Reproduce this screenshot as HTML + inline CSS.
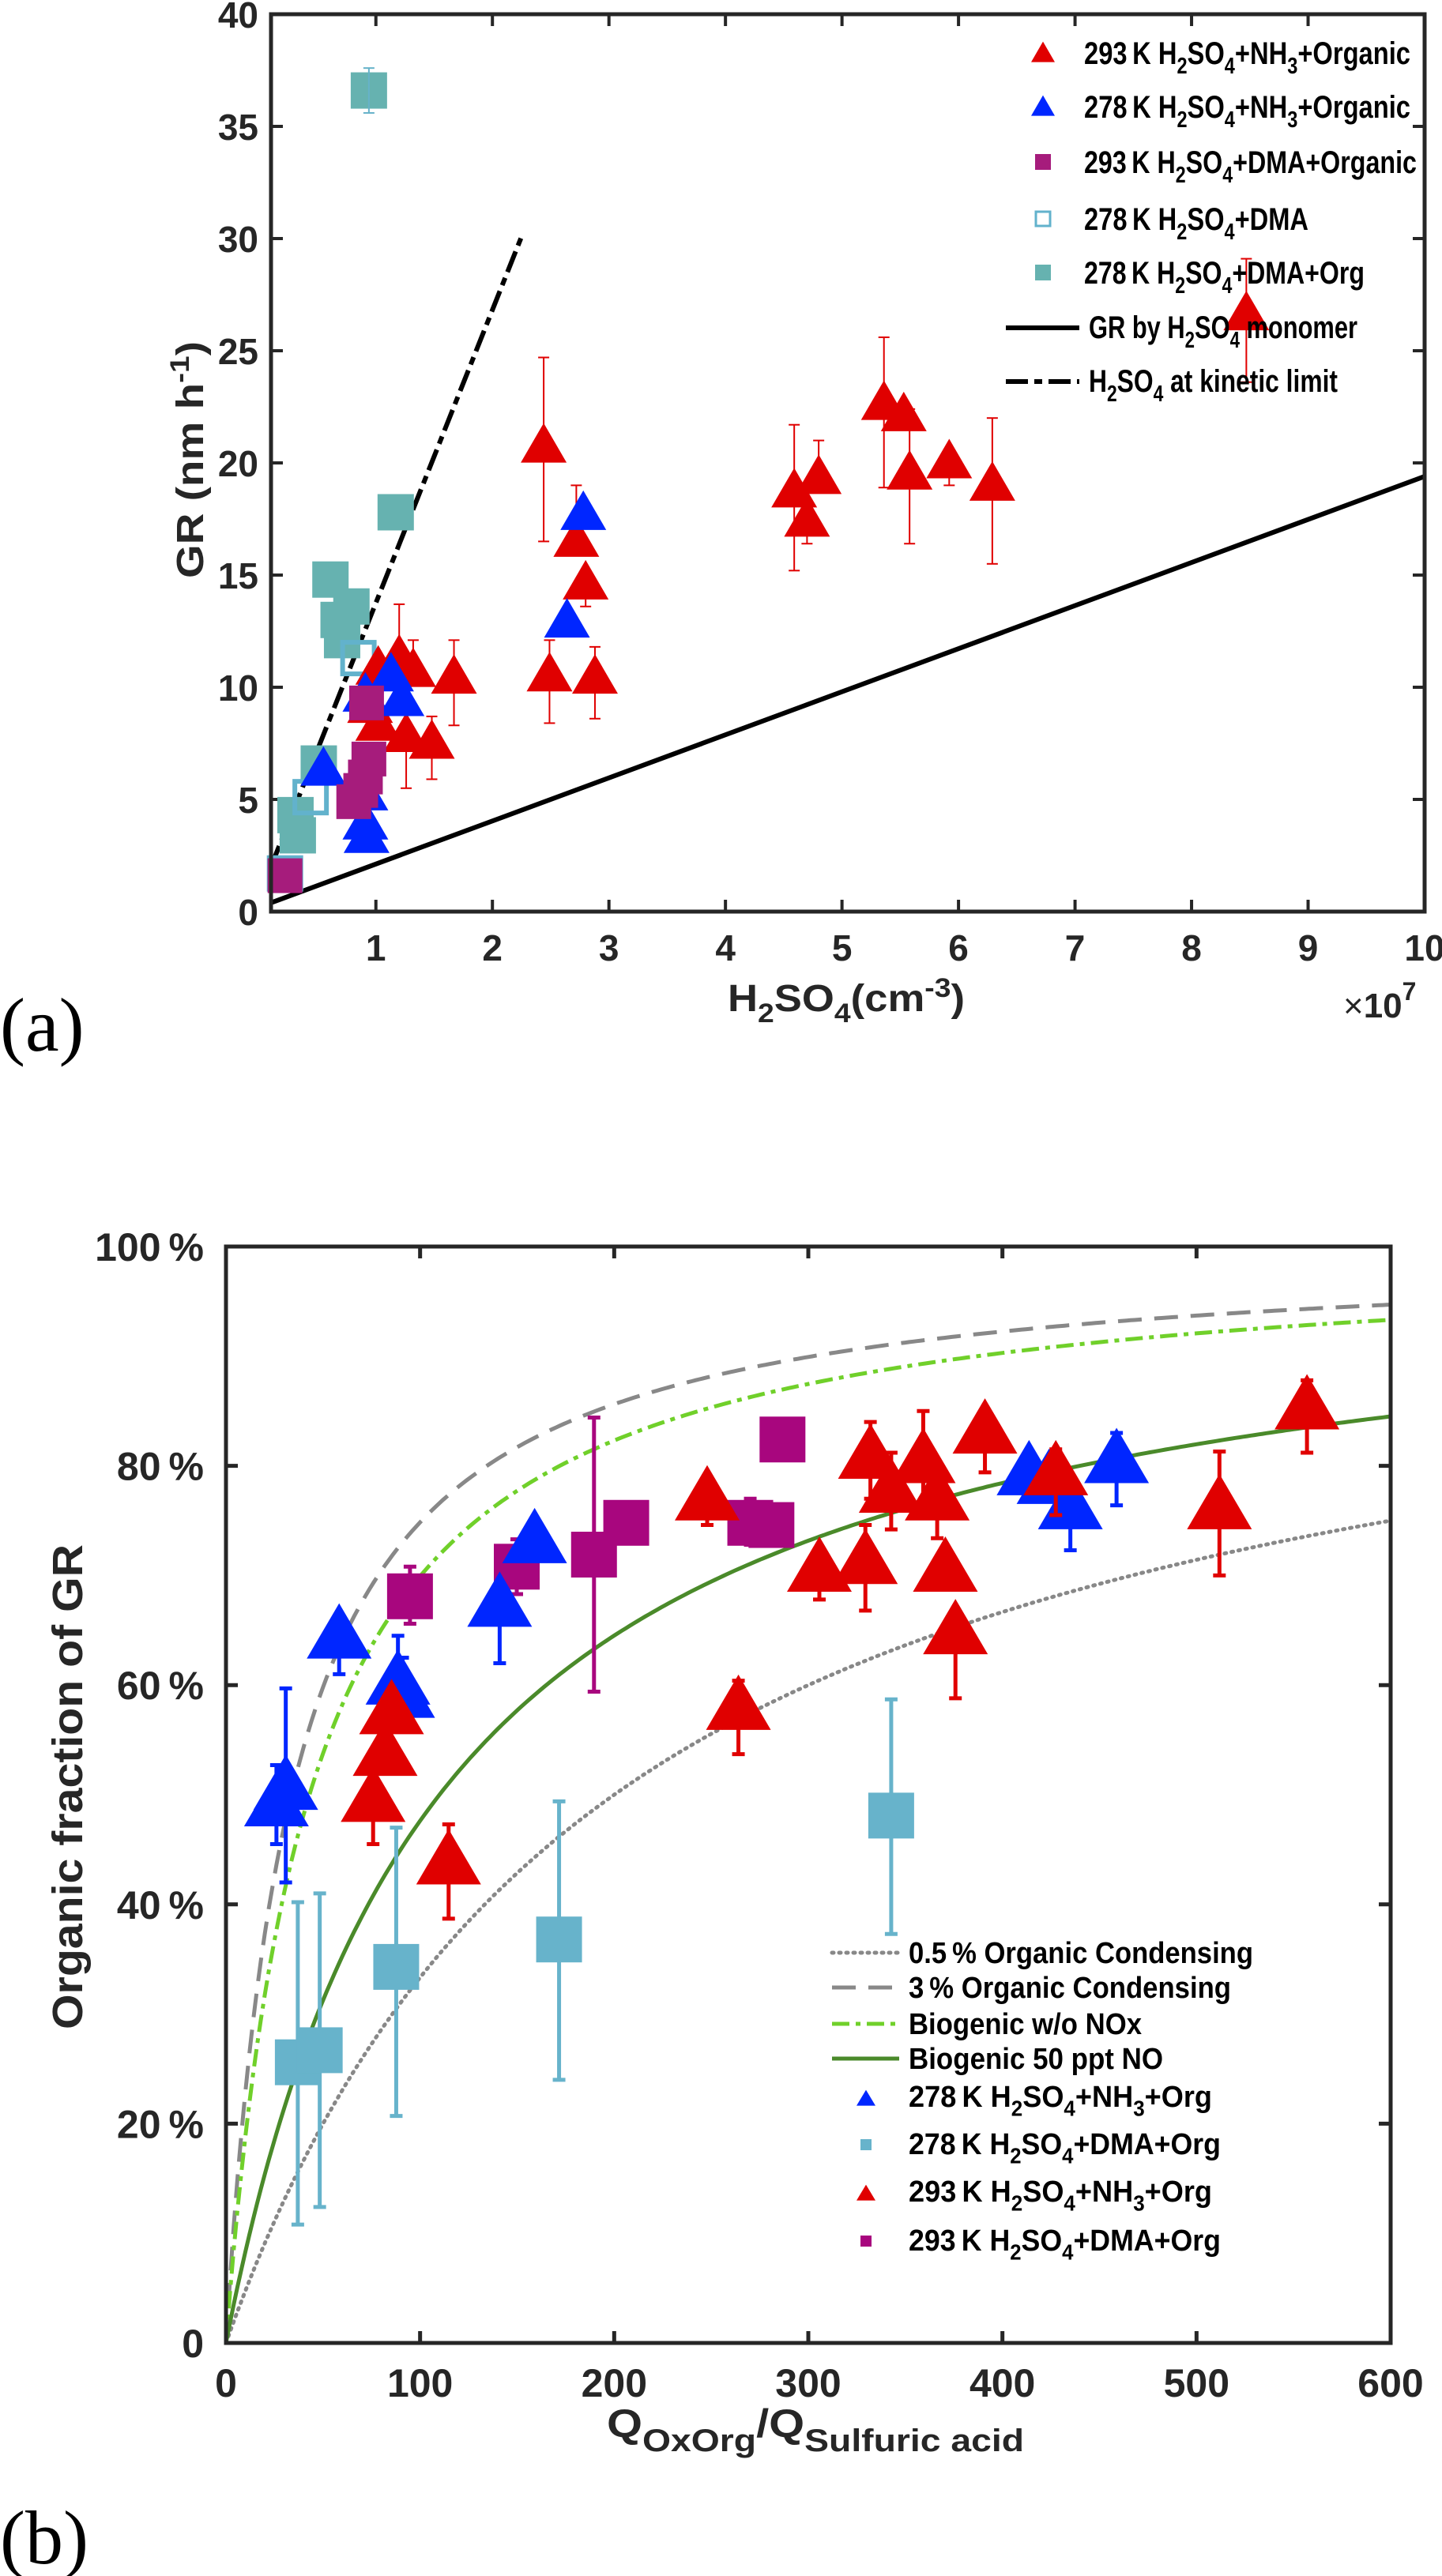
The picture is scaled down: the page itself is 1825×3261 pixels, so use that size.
<!DOCTYPE html>
<html><head><meta charset="utf-8"><title>GR vs H2SO4 and organic fraction of GR</title>
<style>html,body{margin:0;padding:0;background:#fff}svg{display:block}text{font-family:"Liberation Sans",sans-serif;font-weight:bold;fill:#262626}</style>
</head><body>
<svg id="fig" xmlns="http://www.w3.org/2000/svg" width="1825" height="3261" viewBox="0 0 1825 3261">
<g id="pa"></g>
<g id="pb"></g>
<text x="0" y="1330" style="font-family:'Liberation Serif',serif;font-weight:normal;font-size:96px;fill:#000">(a)</text>
<text x="0" y="3245" style="font-family:'Liberation Serif',serif;font-weight:normal;font-size:96px;fill:#000">(b)</text>
</svg>
<script>
// ---------- Panel A data ----------
const aXTicks = [1,2,3,4,5,6,7,8,9,10];
const aYTicks = [0,5,10,15,20,25,30,35,40];
const aRedX  = [2.44,2.72,2.80,2.49,2.88,4.59,4.70,4.80,5.36,5.53,5.58,5.92,6.29,8.47,1.02,1.20,1.32,1.67,1.02,1.26,1.48,0.95];
const aRedY  = [20.6,16.4,14.5,10.4,10.3,18.6,17.3,19.2,22.5,22.0,19.4,19.9,18.9,26.5,10.7,11.2,10.6,10.3,8.2,7.7,7.4,9.0];
const aRedLo = [16.5,16.4,13.6,8.4,8.6,15.2,16.4,19.2,18.9,22.0,16.4,19.0,15.5,23.6,10.7,11.2,10.6,8.3,8.2,5.5,5.9,9.0];
const aRedHi = [24.7,19.0,15.0,12.1,11.8,21.7,17.3,21.0,25.6,22.0,22.4,19.9,22.0,29.1,10.7,13.7,12.1,12.1,8.2,7.7,8.7,9.0];
const aBlueX = [2.78,2.64,0.91,1.22,0.55,0.91,0.91,0.92,1.13];
const aBlueY = [17.6,12.8,9.5,9.3,6.2,5.1,3.8,3.2,10.4];
const aMagX  = [0.92,0.94,0.91,0.87,0.81,0.22];
const aMagY  = [9.3,6.8,6.0,5.4,4.9,1.6];
const aOpenX = [0.85,0.44,0.22];
const aOpenY = [11.3,5.1,1.7];
const aTealX = [0.94,1.17,0.61,0.79,0.68,0.71,0.51,0.31,0.33];
const aTealY = [36.6,17.8,14.8,13.6,13.0,12.1,6.6,4.3,3.4];
const aTealLo= [35.6,17.8,14.8,13.6,13.0,12.1,6.6,4.3,3.4];
const aTealHi= [37.6,17.8,14.8,13.6,13.0,12.1,6.6,4.3,3.4];
const aMonoSlope = 1.92, aMonoIcpt = 0.2;
const aKinSlope = 13.06, aKinIcpt = -0.6, aKinXmax = 2.26;

// ---------- Panel B data ----------
const bXTicks = [0,100,200,300,400,500,600];
const bYTicks = [0,20,40,60,80,100];
const bYTickLabels = ['0','20\u2009%','40\u2009%','60\u2009%','80\u2009%','100\u2009%'];
const bBlueX = [26,30.8,58.3,88.6,91,141,159,413.7,435,458.8,424];
const bBlueY = [48.8,50.3,64.1,59.9,58.7,67,72.8,79,75.9,80.1,78.2];
const bBlueLo= [45.5,42,61,59.9,58.7,62,72.8,79,72.3,76.4,78.2];
const bBlueHi= [52.7,59.7,64.1,64.5,62.5,67,72.8,79,75.9,83,78.2];
const bCyanX = [37,48.3,87.7,171.6,342.7];
const bCyanY = [25.6,26.7,34.3,36.8,48.1];
const bCyanLo= [10.8,12.4,20.7,24,37.3];
const bCyanHi= [40.2,41,47,49.4,58.7];
const bRedX  = [75.8,82,85.3,114.7,247.9,264,305.7,329.4,332,342.7,359.2,366.4,370.6,375.8,391,427.5,511.8,556.9];
const bRedY  = [49.2,53.4,57.2,43.5,76.7,57.6,70.2,70.9,80.5,77.4,80.1,76.7,70.2,64.5,82.8,79,75.9,85];
const bRedLo = [45.5,53.4,57.2,38.7,74.6,53.7,67.8,66.8,77,74.2,76,73.4,70.2,58.8,79.4,75.5,70,81.2];
const bRedHi = [49.2,53.4,57.2,47.3,76.7,60.4,70.2,74.6,84,81.2,85,76.7,70.2,64.5,82.8,81.5,81.3,87.8];
const bMagX  = [94.8,149.8,189.6,206.2,270.1,281,286.7];
const bMagY  = [68.1,70.8,71.9,74.8,74.8,74.6,82.4];
const bMagLo = [65.6,68.3,59.4,74.8,72.8,74.6,82.4];
const bMagHi = [70.8,73.3,84.4,74.8,77,74.6,82.4];
const bCurveK = [200,33.6,43,110]; // half-saturation constants of the four model curves

const NS='http://www.w3.org/2000/svg';
function mk(parent,tag,attrs){const e=document.createElementNS(NS,tag);for(const k in attrs)e.setAttribute(k,attrs[k]);parent.appendChild(e);return e;}

function tri(g,cx,cy,w,h,color){return mk(g,'polygon',{points:`${cx-w/2},${cy+h/3} ${cx+w/2},${cy+h/3} ${cx},${cy-2*h/3}`,fill:color});}
function sq(g,cx,cy,s,color,open){return mk(g,'rect',{x:cx-s/2,y:cy-s/2,width:s,height:s,fill:open?'none':color,stroke:color,'stroke-width':open?6:0});}
function ebar(g,x,ylo,yhi,color,w,cap){
  const grp=mk(g,'g',{stroke:color,'stroke-width':w});
  mk(grp,'line',{x1:x,x2:x,y1:ylo,y2:yhi});
  mk(grp,'line',{x1:x-cap,x2:x+cap,y1:ylo,y2:ylo});
  mk(grp,'line',{x1:x-cap,x2:x+cap,y1:yhi,y2:yhi});
  return grp;
}

// ================= PANEL A =================
(function(){
const g=document.getElementById('pa');
const L=343,R=1803,T=18,B=1154,x0=0.1,x1=10,y0=0,y1=40;
const sx=v=>L+(v-x0)/(x1-x0)*(R-L);
const sy=v=>B-(v-y0)/(y1-y0)*(B-T);
const ax=mk(g,'g',{});


aXTicks.forEach(t=>{
  const tk=mk(ax,'path',{d:`M${sx(t)},${B} v-15 M${sx(t)},${T} v15`,stroke:'#262626','stroke-width':4});
  
  
  const lb=mk(ax,'text',{x:sx(t),y:B+62,'text-anchor':'middle','font-size':46});
  lb.textContent=t;
  
  
});
aYTicks.forEach(t=>{
  const tk=mk(ax,'path',{d:`M${L},${sy(t)} h15 M${R},${sy(t)} h-15`,stroke:'#262626','stroke-width':4});
  
  
  const lb=mk(ax,'text',{x:L-16,y:sy(t)+17,'text-anchor':'end','font-size':46});
  lb.textContent=t;
  
  
});
const mono=mk(g,'line',{x1:sx(x0),y1:sy(aMonoSlope*x0+aMonoIcpt),x2:sx(x1),y2:sy(aMonoSlope*x1+aMonoIcpt),stroke:'#000','stroke-width':6});


const kin=mk(g,'line',{x1:sx(x0),y1:sy(aKinSlope*x0+aKinIcpt+1.3),x2:sx(aKinXmax),y2:sy(aKinSlope*aKinXmax+aKinIcpt+1.3),stroke:'#000','stroke-width':6,'stroke-dasharray':'28 8 10 8'});


aTealX.forEach((v,i)=>{
  const m=sq(g,sx(v),sy(aTealY[i]),46,'#66b2b0',false);
  
  
  if(aTealHi[i]>aTealY[i]){const e=ebar(g,sx(v),sy(aTealLo[i]),sy(aTealHi[i]),'#66b2c9',2,7);
  
  }
});
aOpenX.forEach((v,i)=>{
  const m=sq(g,sx(v),sy(aOpenY[i]),40,'#62b2cc',true);
  
  
});
aRedX.forEach((v,i)=>{
  if(aRedHi[i]>aRedLo[i]){const e=ebar(g,sx(v),sy(aRedLo[i]),sy(aRedHi[i]),'#e00000',2,7);
  
  }
  const m=tri(g,sx(v),sy(aRedY[i]),58,50,'#e00000');
  
  
});
aBlueX.forEach((v,i)=>{
  const m=tri(g,sx(v),sy(aBlueY[i]),58,50,'#0026ff');
  
  
});
aMagX.forEach((v,i)=>{
  const m=sq(g,sx(v),sy(aMagY[i]),44,'#a61c7c',false);
  
  
});
const box=mk(g,'rect',{x:L,y:T,width:R-L,height:B-T,fill:'none',stroke:'#262626','stroke-width':5});


const lg=mk(g,'g',{});


const rows=[67,135,205,277,345];
tri(lg,1320,rows[0]+3,30,26,'#e00000');
tri(lg,1320,rows[1]+3,30,26,'#0026ff');
sq(lg,1320,rows[2],20,'#a61c7c',false);
sq(lg,1320,rows[3],18,'#62b2cc',true).setAttribute('stroke-width',3);
sq(lg,1320,rows[4],20,'#66b2b0',false);
mk(lg,'line',{x1:1273,x2:1366,y1:415,y2:415,stroke:'#000','stroke-width':6});
mk(lg,'line',{x1:1273,x2:1366,y1:483,y2:483,stroke:'#000','stroke-width':6,'stroke-dasharray':'28 8 10 8'});
const ltxt=[
 ['293\u2009K H','2','SO','4','+NH','3','+Organic',413],
 ['278\u2009K H','2','SO','4','+NH','3','+Organic',413],
 ['293\u2009K H','2','SO','4','+DMA+Organic','','',421],
 ['278\u2009K H','2','SO','4','+DMA','','',284],
 ['278\u2009K H','2','SO','4','+DMA+Org','','',355]];
function subText(parent,x,y,parts,fs,len,name){
  const t=mk(parent,'text',{x:x,y:y,'font-size':fs,fill:'#000',style:'fill:#000'});
  if(len){t.setAttribute('textLength',len);t.setAttribute('lengthAdjust','spacingAndGlyphs');}
  
  
  parts.forEach((p,i)=>{ if(p==='')return; const s=mk(t,'tspan',{});
    if(i%2===1){s.setAttribute('dy',fs*0.3);s.setAttribute('font-size',fs*0.72);}
    else if(i>0){s.setAttribute('dy',-fs*0.3);}
    s.textContent=p;});
  return t;
}
ltxt.forEach((p,i)=>subText(lg,1372,rows[i]+14,p.slice(0,7),40,p[7],'legend-entry'));
subText(lg,1378,428,['GR by H','2','SO','4',' monomer'],40,340,'legend-entry');
subText(lg,1378,496,['H','2','SO','4',' at kinetic limit'],40,315,'legend-entry');
const yt=mk(g,'text',{x:0,y:0,'font-size':48,'text-anchor':'middle',transform:'translate(257,582) rotate(-90)',textLength:300,lengthAdjust:'spacingAndGlyphs'});
yt.innerHTML='GR (nm h<tspan dy="-18" font-size="34">-1</tspan><tspan dy="18">)</tspan>';


const xt=mk(g,'text',{x:921,y:1280,'font-size':48,textLength:300,lengthAdjust:'spacingAndGlyphs'});
xt.innerHTML='H<tspan dy="14" font-size="34">2</tspan><tspan dy="-14">SO</tspan><tspan dy="14" font-size="34">4</tspan><tspan dy="-14">(cm</tspan><tspan dy="-18" font-size="34">-3</tspan><tspan dy="18">)</tspan>';


const ex=mk(g,'text',{x:1700,y:1288,'font-size':44});
ex.innerHTML='<tspan font-weight="normal">\u00d7</tspan>10<tspan dy="-22" font-size="32">7</tspan>';


})();

// ================= PANEL B =================
(function(){
const g=document.getElementById('pb');
const L=286,R=1760,T=1578,B=2966,x0=0,x1=600,y0=0,y1=100;
const sx=v=>L+(v-x0)/(x1-x0)*(R-L);
const sy=v=>B-(v-y0)/(y1-y0)*(B-T);
bXTicks.forEach(t=>{
  const tk=mk(g,'path',{d:`M${sx(t)},${B} v-15 M${sx(t)},${T} v15`,stroke:'#262626','stroke-width':5});
  
  
  const lb=mk(g,'text',{x:sx(t),y:B+68,'text-anchor':'middle','font-size':50});
  lb.textContent=t;
  
  
});
bYTicks.forEach((t,i)=>{
  const tk=mk(g,'path',{d:`M${L},${sy(t)} h15 M${R},${sy(t)} h-15`,stroke:'#262626','stroke-width':5});
  
  
  const lb=mk(g,'text',{x:L-28,y:sy(t)+18,'text-anchor':'end','font-size':50});
  lb.textContent=bYTickLabels[i];
  
  
});
const styles=[
 {stroke:'#888','stroke-width':5,'stroke-dasharray':'2 7','stroke-linecap':'round',name:'curve-0-5pct-organic-condensing'},
 {stroke:'#888','stroke-width':5,'stroke-dasharray':'30 16',name:'curve-3pct-organic-condensing'},
 {stroke:'#70d02a','stroke-width':5,'stroke-dasharray':'22 8 6 8',name:'curve-biogenic-without-nox'},
 {stroke:'#4a8a2a','stroke-width':5,name:'curve-biogenic-50ppt-no'}];
bCurveK.forEach((K,ci)=>{
  let d='';
  for(let q=0;q<=600;q+=2){const f=100*q/(q+K);d+=(q?'L':'M')+sx(q).toFixed(1)+','+sy(f).toFixed(1);}
  const s=styles[ci];
  const p=mk(g,'path',{d:d,fill:'none',stroke:s.stroke,'stroke-width':s['stroke-width']});
  if(s['stroke-dasharray'])p.setAttribute('stroke-dasharray',s['stroke-dasharray']);
  if(s['stroke-linecap'])p.setAttribute('stroke-linecap',s['stroke-linecap']);
  
  
});
function series(X,Y,LO,HI,color,ecol,kind,name){
  X.forEach((v,i)=>{
    if(HI[i]>LO[i]){const e=ebar(g,sx(v),sy(LO[i]),sy(HI[i]),ecol,5,8);
    
    }
    const m=kind==='t'?tri(g,sx(v),sy(Y[i]),82,70,color):sq(g,sx(v),sy(Y[i]),58,color,false);
    
    
  });
}
series(bCyanX,bCyanY,bCyanLo,bCyanHi,'#67b3cb','#67b3cb','s','point-278k-dma-org');
series(bMagX,bMagY,bMagLo,bMagHi,'#a8067e','#a8067e','s','point-293k-dma-org');
series(bBlueX,bBlueY,bBlueLo,bBlueHi,'#0026ff','#0026ff','t','point-278k-nh3-org');
series(bRedX,bRedY,bRedLo,bRedHi,'#e00000','#e00000','t','point-293k-nh3-org');
const box=mk(g,'rect',{x:L,y:T,width:R-L,height:B-T,fill:'none',stroke:'#262626','stroke-width':5});


const lg=mk(g,'g',{});


const ly=[2472,2516,2562,2606];
const lnames=['0.5\u2009% Organic Condensing','3\u2009% Organic Condensing','Biogenic w/o NOx','Biogenic 50 ppt NO'];
const llen=[436,408,295,322];
styles.forEach((s,i)=>{
  const l=mk(lg,'line',{x1:1053,x2:1138,y1:ly[i],y2:ly[i],stroke:s.stroke,'stroke-width':5});
  if(s['stroke-dasharray'])l.setAttribute('stroke-dasharray',s['stroke-dasharray']);
  if(s['stroke-linecap'])l.setAttribute('stroke-linecap',s['stroke-linecap']);
  const t=mk(lg,'text',{x:1150,y:ly[i]+13,'font-size':38,textLength:llen[i],lengthAdjust:'spacingAndGlyphs',style:'fill:#000'});
  t.textContent=lnames[i];
  
  
});
const my=[2655,2715,2775,2837];
tri(lg,1096,my[0]+4,24,20,'#0026ff');
sq(lg,1096,my[1],14,'#67b3cb',false);
tri(lg,1096,my[2]+4,24,20,'#e00000');
sq(lg,1096,my[3],14,'#a8067e',false);
const mparts=[['278\u2009K H','2','SO','4','+NH','3','+Org',384],['278\u2009K H','2','SO','4','+DMA+Org','','',395],
 ['293\u2009K H','2','SO','4','+NH','3','+Org',384],['293\u2009K H','2','SO','4','+DMA+Org','','',395]];
mparts.forEach((p,i)=>{
  const fs=38;
  const t=mk(lg,'text',{x:1150,y:my[i]+12,'font-size':fs,textLength:p[7],lengthAdjust:'spacingAndGlyphs',style:'fill:#000'});
  
  
  p.slice(0,7).forEach((s,j)=>{ if(s==='')return; const ts=mk(t,'tspan',{});
    if(j%2===1){ts.setAttribute('dy',fs*0.3);ts.setAttribute('font-size',fs*0.72);} else if(j>0){ts.setAttribute('dy',-fs*0.3);}
    ts.textContent=s;});
});
const yt=mk(g,'text',{x:0,y:0,'font-size':54,'text-anchor':'middle',transform:'translate(104,2262) rotate(-90)',textLength:614,lengthAdjust:'spacingAndGlyphs'});
yt.textContent='Organic fraction of GR';


const xt=mk(g,'text',{x:768,y:3085,'font-size':50,textLength:528,lengthAdjust:'spacingAndGlyphs'});
xt.innerHTML='Q<tspan dy="18" font-size="40">OxOrg</tspan><tspan dy="-18">/Q</tspan><tspan dy="18" font-size="40">Sulfuric acid</tspan>';


})();
</script>
</body></html>
